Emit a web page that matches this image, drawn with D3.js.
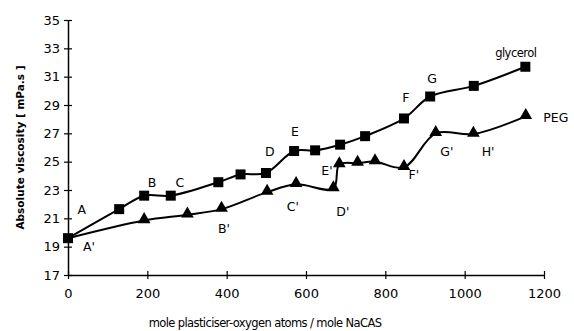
<!DOCTYPE html>
<html>
<head>
<meta charset="utf-8">
<script src="https://cdn.jsdelivr.net/npm/d3@7"></script>
<style>
  body { margin: 0; background: #fff; }
  text { font-family: "DejaVu Sans", sans-serif; fill: #000; }
</style>
</head>
<body>
<svg width="574" height="331"></svg>
<script>
var svg = d3.select("svg");

// glycerol series (squares)
var glyX = [0, 129, 192, 259, 379, 435, 499, 570, 623, 686, 749, 847, 913, 1023, 1153];
var glyY = [19.6, 21.65, 22.6, 22.6, 23.55, 24.1, 24.2, 25.75, 25.8, 26.2, 26.8, 28.05, 29.6, 30.35, 31.7];

// PEG series (triangles)
var pegX = [0, 192, 301, 387, 502, 575, 669, 684, 730, 774, 847, 927, 1022, 1154];
var pegY = [19.6, 20.85, 21.25, 21.65, 22.85, 23.4, 23.1, 24.8, 24.9, 25.0, 24.6, 27.0, 26.95, 28.2];

var xTicks = [0, 200, 400, 600, 800, 1000, 1200];
var yTicks = [17, 19, 21, 23, 25, 27, 29, 31, 33, 35];

// point labels, placed in data units
var labelText = ["A", "A'", "B", "C", "B'", "D", "E", "C'", "E'", "D'", "F", "G", "F'", "G'", "H'", "glycerol", "PEG"];
var labelX    = [35, 53, 212, 282, 393, 509, 572, 567, 653, 693, 852, 918, 872, 955, 1059, 1129, 1230];
var labelY    = [21.6, 19.0, 23.55, 23.55, 20.25, 25.7, 27.15, 21.85, 24.4, 21.45, 29.5, 30.9, 24.1, 25.7, 25.7, 32.65, 28.15];

var xScale = d3.scaleLinear().domain([0, 1200]).range([68, 544]);
var yScale = d3.scaleLinear().domain([17, 35]).range([275, 20]);

// axes
var xAxis = d3.axisBottom(xScale).tickValues(xTicks).tickFormat(d3.format("d")).tickSize(0).tickPadding(14);
var yAxis = d3.axisLeft(yScale).tickValues(yTicks).tickSize(0).tickPadding(8);

var gx = svg.append("g").attr("transform", "translate(0," + yScale(17) + ")").call(xAxis);
var gy = svg.append("g").attr("transform", "translate(" + xScale(0) + ",0)").call(yAxis);

[gx, gy].forEach(function (g) {
  g.select(".domain").attr("stroke", "#000").attr("stroke-width", 1.5);
  g.selectAll("text").attr("font-size", 13).attr("fill", "#000");
});

// cross ticks
gx.selectAll(".tick").append("line")
  .attr("y1", -4).attr("y2", 4).attr("stroke", "#000").attr("stroke-width", 1.2);
gy.selectAll(".tick").append("line")
  .attr("x1", -4).attr("x2", 4).attr("stroke", "#000").attr("stroke-width", 1.2);

// axis titles
svg.append("text")
  .attr("transform", "translate(24," + ((yScale(17) + yScale(35)) / 2) + ") rotate(-90)")
  .attr("text-anchor", "middle")
  .attr("font-size", 10.5)
  .attr("font-weight", "bold")
  .text("Absolute viscosity [ mPa.s ]");

svg.append("text")
  .attr("x", 265).attr("y", 327)
  .attr("text-anchor", "middle")
  .attr("font-size", 11.5)
  .attr("letter-spacing", -0.6)
  .text("mole plasticiser-oxygen atoms / mole NaCAS");

var line = d3.line()
  .x(function (d) { return xScale(d[0]); })
  .y(function (d) { return yScale(d[1]); })
  .curve(d3.curveCatmullRom.alpha(0.5));

var gly = d3.zip(glyX, glyY);
var peg = d3.zip(pegX, pegY);

svg.append("path").datum(peg).attr("d", line)
  .attr("fill", "none").attr("stroke", "#000").attr("stroke-width", 2);
svg.append("path").datum(gly).attr("d", line)
  .attr("fill", "none").attr("stroke", "#000").attr("stroke-width", 2);

var tri = d3.symbol().type(d3.symbolTriangle).size(70);
svg.selectAll(".tri").data(peg.slice(1)).enter().append("path")
  .attr("class", "tri")
  .attr("d", tri)
  .attr("transform", function (d) { return "translate(" + xScale(d[0]) + "," + (yScale(d[1]) - 1) + ")"; })
  .attr("fill", "#000");

svg.selectAll(".sq").data(gly).enter().append("rect")
  .attr("class", "sq")
  .attr("x", function (d) { return xScale(d[0]) - 5; })
  .attr("y", function (d) { return yScale(d[1]) - 5; })
  .attr("width", 10).attr("height", 10)
  .attr("fill", "#000");

svg.selectAll(".lbl").data(labelText).enter().append("text")
  .attr("class", "lbl")
  .attr("x", function (d, i) { return xScale(labelX[i]); })
  .attr("y", function (d, i) { return yScale(labelY[i]); })
  .attr("text-anchor", "middle")
  .attr("dominant-baseline", "central")
  .attr("font-size", function (d) { return d === "glycerol" ? 11.5 : 12.5; })
  .attr("letter-spacing", function (d) { return d === "glycerol" ? -0.5 : 0; })
  .text(function (d) { return d; });
</script>
</body>
</html>
